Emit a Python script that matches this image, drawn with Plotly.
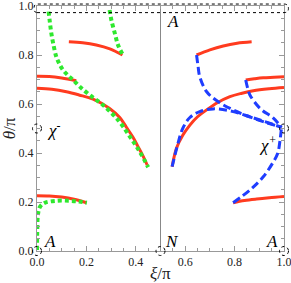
import plotly.graph_objects as go

# ---- data (xi/pi, theta/pi) ----
red_1_x = [0.129, 0.185, 0.240, 0.295, 0.346]
red_1_y = [0.854, 0.850, 0.841, 0.825, 0.800]
red_2_x = [0.0, 0.05, 0.10, 0.159]
red_2_y = [0.713, 0.712, 0.706, 0.695]
red_3_x = [0.0, 0.06, 0.119, 0.17, 0.227, 0.294, 0.335, 0.362, 0.388, 0.409, 0.428, 0.446]
red_3_y = [0.664, 0.660, 0.650, 0.637, 0.620, 0.582, 0.545, 0.505, 0.465, 0.426, 0.390, 0.351]
red_4_x = [0.0, 0.05, 0.10, 0.15, 0.20]
red_4_y = [0.226, 0.225, 0.220, 0.211, 0.197]
red_5_x = [0.646, 0.70, 0.754, 0.81, 0.869]
red_5_y = [0.800, 0.821, 0.837, 0.848, 0.854]
red_6_x = [0.845, 0.88, 0.916, 0.96, 1.0]
red_6_y = [0.698, 0.703, 0.707, 0.709, 0.711]
red_7_x = [0.547, 0.565, 0.590, 0.619, 0.650, 0.687, 0.730, 0.781, 0.830, 0.876, 0.94, 1.0]
red_7_y = [0.344, 0.420, 0.472, 0.514, 0.548, 0.576, 0.605, 0.630, 0.644, 0.654, 0.662, 0.667]
red_8_x = [0.794, 0.84, 0.889, 0.94, 1.0]
red_8_y = [0.197, 0.206, 0.212, 0.217, 0.222]

green_1_x = [0.047, 0.052, 0.058, 0.067, 0.078, 0.090, 0.105, 0.125, 0.146, 0.173, 0.213, 0.267, 0.328, 0.376, 0.416, 0.450]
green_1_y = [0.977, 0.935, 0.889, 0.840, 0.793, 0.765, 0.739, 0.717, 0.698, 0.671, 0.637, 0.596, 0.535, 0.467, 0.405, 0.342]
green_2_x = [0.294, 0.301, 0.315, 0.328, 0.348]
green_2_y = [0.984, 0.943, 0.889, 0.841, 0.800]
green_3_x = [0.0, 0.001, 0.004, 0.012, 0.030, 0.078, 0.132, 0.170, 0.202]
green_3_y = [0.004, 0.08, 0.150, 0.180, 0.196, 0.205, 0.205, 0.202, 0.197]

blue_1_x = [0.646, 0.652, 0.659, 0.687, 0.734, 0.794, 0.849, 0.916, 0.990]
blue_1_y = [0.800, 0.755, 0.711, 0.650, 0.609, 0.576, 0.552, 0.528, 0.505]
blue_2_x = [0.845, 0.852, 0.862, 0.903, 0.957, 0.990]
blue_2_y = [0.698, 0.668, 0.637, 0.582, 0.542, 0.505]
blue_3_x = [0.547, 0.571, 0.590, 0.619, 0.659, 0.713, 0.781, 0.849, 0.916, 0.990]
blue_3_y = [0.344, 0.440, 0.500, 0.545, 0.569, 0.580, 0.572, 0.552, 0.530, 0.505]
blue_4_x = [0.794, 0.862, 0.916, 0.957, 0.975, 0.984, 0.990]
blue_4_y = [0.197, 0.249, 0.303, 0.364, 0.400, 0.453, 0.505]

x_ticks = [0.0, 0.2, 0.4, 0.6, 0.8, 1.0]
y_ticks = [0.0, 0.2, 0.4, 0.6, 0.8, 1.0]
tick_text = ["0.0", "0.2", "0.4", "0.6", "0.8", "1.0"]

labels = [
    (0.052, 0.040, "A"),
    (0.551, 0.936, "A"),
    (0.548, 0.040, "N"),
    (0.953, 0.040, "A"),
    (0.068, 0.497, "χ<sup>-</sup>"),
    (0.935, 0.437, "χ<sup>+</sup>"),
]
circle_pts = [(0.0, 0.0), (0.5, 0.0), (1.0, 0.0), (0.0, 0.5), (1.0, 0.5)]

RED = "#ff3b1f"
GREEN = "#2ee82e"
BLUE = "#1f3dff"
SERIF = "Liberation Serif"

fig = go.Figure()

# vertical reference line
fig.add_trace(go.Scatter(x=[0.5, 0.5], y=[0.0, 1.0], mode="lines",
                         line=dict(color="#888888", width=1), showlegend=False))

for xs, ys in [(red_1_x, red_1_y), (red_2_x, red_2_y), (red_3_x, red_3_y), (red_4_x, red_4_y),
               (red_5_x, red_5_y), (red_6_x, red_6_y), (red_7_x, red_7_y), (red_8_x, red_8_y)]:
    fig.add_trace(go.Scatter(x=xs, y=ys, mode="lines", line=dict(color=RED, width=3, shape="spline"),
                             showlegend=False))

for xs, ys in [(green_1_x, green_1_y), (green_2_x, green_2_y), (green_3_x, green_3_y)]:
    fig.add_trace(go.Scatter(x=xs, y=ys, mode="lines",
                             line=dict(color=GREEN, width=4, dash="4px,3px", shape="spline"),
                             showlegend=False))

for xs, ys in [(blue_1_x, blue_1_y), (blue_2_x, blue_2_y), (blue_3_x, blue_3_y), (blue_4_x, blue_4_y)]:
    fig.add_trace(go.Scatter(x=xs, y=ys, mode="lines",
                             line=dict(color=BLUE, width=3, dash="8px,4px", shape="spline"),
                             showlegend=False))

# dotted capsule at the top
fig.add_shape(type="path", xref="paper", yref="paper",
              path="M 0,0.973 L 1,0.973 Q 1.018,0.973 1.018,0.99 Q 1.018,1.008 1,1.008 "
                   "L 0,1.008 Q -0.012,1.008 -0.012,0.99 Q -0.012,0.973 0,0.973 Z",
              line=dict(color="black", width=1, dash="dot"))

for cx, cy in circle_pts:
    fig.add_shape(type="circle", xref="paper", yref="paper", xsizemode="pixel", ysizemode="pixel",
                  xanchor=cx, yanchor=cy, x0=-4.5, x1=4.5, y0=-4.5, y1=4.5,
                  line=dict(color="black", width=1, dash="dot"))

for lx, ly, txt in labels:
    fig.add_annotation(x=lx, y=ly, xref="x", yref="y", text="<i>" + txt + "</i>", showarrow=False,
                       xanchor="center", yanchor="middle",
                       font=dict(family=SERIF, size=17, color="black"))

# axis titles
fig.add_annotation(x=0.5, y=-0.091, xref="paper", yref="paper", text="<i>ξ</i>/π", showarrow=False,
                   xanchor="center", yanchor="middle",
                   font=dict(family=SERIF, size=17, color="#222222"))
fig.add_annotation(x=-0.110, y=0.5, xref="paper", yref="paper", text="<i>θ</i>/π", showarrow=False,
                   xanchor="center", yanchor="middle",
                   textangle=-90, font=dict(family=SERIF, size=17, color="#222222"))

axis_common = dict(range=[0, 1], showgrid=False, zeroline=False, showline=True, linecolor="#999999",
                   linewidth=1, mirror="ticks", ticks="inside", ticklen=5, tickcolor="#999999",
                   automargin=False, ticklabeloverflow="allow",
                   tickfont=dict(family=SERIF, size=12, color="#222222"),
                   minor=dict(ticks="inside", ticklen=3, dtick=0.05, tickcolor="#999999"))

fig.update_xaxes(**axis_common, tickvals=x_ticks, ticktext=tick_text)
fig.update_yaxes(**axis_common, tickvals=y_ticks, ticktext=tick_text)

fig.update_layout(width=291, height=283, margin=dict(l=37, r=7, t=6, b=32),
                  paper_bgcolor="white", plot_bgcolor="white", showlegend=False)

fig.write_html("out.html", config={"displayModeBar": False},
               post_script="document.body.style.margin='0';document.body.style.overflow='hidden';")
